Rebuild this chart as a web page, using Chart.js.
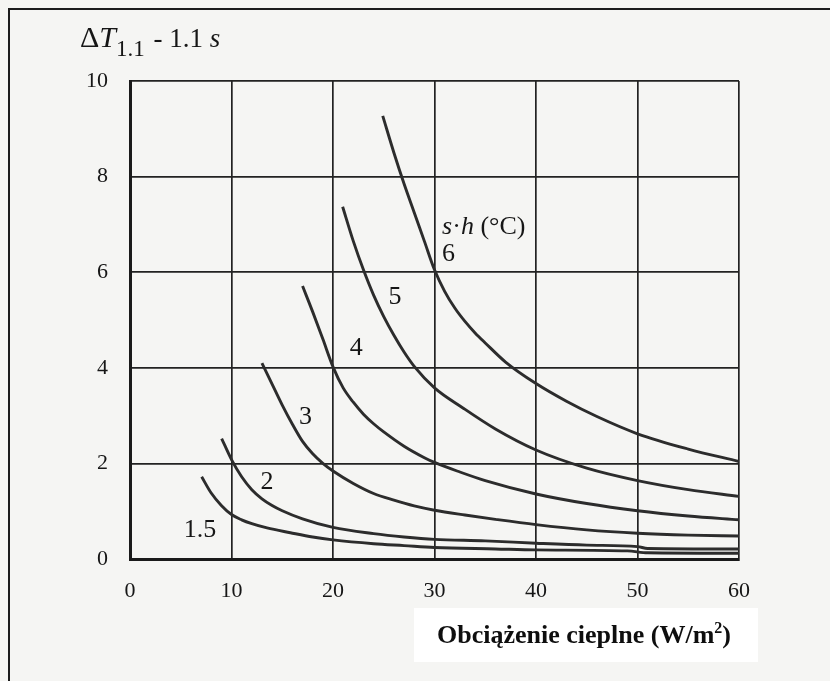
<!DOCTYPE html>
<html>
<head>
<meta charset="utf-8">
<script src="https://cdn.jsdelivr.net/npm/chart.js@4/dist/chart.umd.min.js"></script>
<style>
  html, body { margin: 0; padding: 0; background: #f5f5f3; overflow: hidden; }
  #wrap { width: 830px; height: 681px; }
  #c { display: block; }
</style>
</head>
<body>
<div id="wrap"><canvas id="c" width="830" height="681"></canvas></div>
<script>
// Axis ticks
const xTicks = [0, 10, 20, 30, 40, 50, 60];
const yTicks = [0, 2, 4, 6, 8, 10];

// Curves: heat load (W/m2) vs. temperature rise, one per s·h value
const curveNames = ['1.5', '2', '3', '4', '5', '6'];

const load15 = [7.06, 8, 9, 10, 11, 12, 13.5, 15.8, 18, 20, 24, 27, 30, 36, 40, 49, 51, 60];
const dT15   = [1.72, 1.38, 1.12, 0.93, 0.82, 0.74, 0.65, 0.55, 0.46, 0.40, 0.32, 0.28, 0.24, 0.21, 0.19, 0.17, 0.13, 0.12];

const load2 = [9.03, 10, 11, 12, 13, 14, 15, 17, 20, 24, 27, 30, 35, 40, 45, 50, 51, 60];
const dT2   = [2.52, 2.08, 1.72, 1.45, 1.26, 1.12, 1.01, 0.84, 0.66, 0.53, 0.46, 0.41, 0.38, 0.33, 0.29, 0.26, 0.22, 0.21];

const load3 = [13, 14, 15, 16, 17, 18, 19, 20, 22, 24, 26, 28, 30, 33, 36, 40, 45, 50, 55, 60];
const dT3   = [4.10, 3.66, 3.22, 2.82, 2.46, 2.20, 2.00, 1.84, 1.58, 1.37, 1.23, 1.11, 1.02, 0.92, 0.83, 0.72, 0.61, 0.54, 0.50, 0.48];

const load4 = [17, 18, 19, 20, 21, 22, 23, 24, 25, 27, 29, 30, 32.5, 35, 40, 45, 50, 55, 60];
const dT4   = [5.71, 5.17, 4.60, 4.02, 3.58, 3.28, 3.03, 2.83, 2.66, 2.36, 2.12, 2.02, 1.82, 1.64, 1.36, 1.16, 1.01, 0.90, 0.82];

const load5 = [20.95, 22, 23, 24, 25, 26, 27, 28, 30, 32.8, 36, 40, 45, 50, 55, 60];
const dT5   = [7.37, 6.65, 6.05, 5.52, 5.07, 4.68, 4.33, 4.03, 3.58, 3.16, 2.72, 2.28, 1.90, 1.64, 1.45, 1.31];

const load6 = [24.9, 26, 27, 28, 29, 30, 31, 32, 33, 34, 35, 37, 40, 43, 46, 50, 55, 60];
const dT6   = [9.27, 8.50, 7.85, 7.25, 6.65, 6.05, 5.60, 5.25, 4.97, 4.73, 4.52, 4.12, 3.67, 3.30, 2.98, 2.62, 2.30, 2.04];

// Curve captions placed in data units [x, y]
const captionX = [6.9, 13.5, 17.3, 22.3, 26.1, 30.75];
const captionY = [0.61, 1.61, 2.97, 4.41, 5.48, 6.38];

const loads = [load15, load2, load3, load4, load5, load6];
const temps = [dT15, dT2, dT3, dT4, dT5, dT6];

const SERIF = '"Liberation Serif", "Times New Roman", serif';
const INK = '#161616';
const CURVE = '#2c2c2c';

const datasets = loads.map((xs, i) => ({
  label: 's·h = ' + curveNames[i],
  data: xs.map((x, k) => ({ x: x, y: temps[i][k] })),
  showLine: true,
  borderColor: CURVE,
  borderWidth: 2.9,
  pointRadius: 0,
  cubicInterpolationMode: 'monotone',
  fill: false
}));

const decor = {
  id: 'decor',
  beforeDraw(chart) {
    const ctx = chart.ctx;
    ctx.save();
    ctx.fillStyle = '#f5f5f3';
    ctx.fillRect(0, 0, chart.width, chart.height);
    // page frame
    ctx.strokeStyle = '#1c1c1c';
    ctx.lineWidth = 2;
    ctx.beginPath();
    ctx.moveTo(9, chart.height);
    ctx.lineTo(9, 9);
    ctx.lineTo(chart.width, 9);
    ctx.stroke();
    ctx.restore();
  },
  afterDraw(chart) {
    const ctx = chart.ctx;
    const xs = chart.scales.x, ys = chart.scales.y;
    ctx.save();
    ctx.fillStyle = INK;
    ctx.textBaseline = 'middle';

    // curve captions
    ctx.font = '26px ' + SERIF;
    curveNames.forEach((name, i) => {
      const px = xs.getPixelForValue(captionX[i]);
      const py = ys.getPixelForValue(captionY[i]);
      ctx.textAlign = (i === 5) ? 'left' : 'center';
      ctx.fillText(name, px, py);
    });

    // "s·h (°C)" header above the last caption
    let hx = xs.getPixelForValue(captionX[5]);
    const hy = ys.getPixelForValue(captionY[5]) - 27;
    ctx.textAlign = 'left';
    ctx.font = 'italic 26px ' + SERIF;
    ctx.fillText('s', hx, hy); hx += ctx.measureText('s').width;
    ctx.font = '26px ' + SERIF;
    ctx.fillText('·', hx, hy); hx += ctx.measureText('·').width;
    ctx.font = 'italic 26px ' + SERIF;
    ctx.fillText('h', hx, hy); hx += ctx.measureText('h').width;
    ctx.font = '26px ' + SERIF;
    ctx.fillText(' (°C)', hx, hy);

    // y-axis title: ΔT1.1 - 1.1 s
    ctx.textBaseline = 'alphabetic';
    let tx = 80;
    const ty = 47;
    ctx.font = '30px ' + SERIF;
    ctx.fillText('Δ', tx, ty); tx += ctx.measureText('Δ').width;
    ctx.font = 'italic 30px ' + SERIF;
    ctx.fillText('T', tx, ty); tx += ctx.measureText('T').width;
    ctx.font = '23px ' + SERIF;
    ctx.fillText('1.1', tx, ty + 9); tx += ctx.measureText('1.1').width + 2;
    ctx.font = '27px ' + SERIF;
    ctx.fillText(' - 1.1 ', tx, ty); tx += ctx.measureText(' - 1.1 ').width;
    ctx.font = 'italic 27px ' + SERIF;
    ctx.fillText('s', tx, ty);

    // x-axis title on a white panel
    ctx.fillStyle = '#ffffff';
    ctx.fillRect(414, 608, 344, 54);
    ctx.fillStyle = '#0e0e0e';
    ctx.font = 'bold 26px ' + SERIF;
    const main = 'Obciążenie cieplne (W/m';
    const mw = ctx.measureText(main).width;
    ctx.font = 'bold 16px ' + SERIF;
    const sw = ctx.measureText('2').width;
    ctx.font = 'bold 26px ' + SERIF;
    const cw = ctx.measureText(')').width;
    let ax = 584 - (mw + sw + cw) / 2;
    const ay = 643;
    ctx.fillText(main, ax, ay); ax += mw;
    ctx.font = 'bold 16px ' + SERIF;
    ctx.fillText('2', ax, ay - 10); ax += sw;
    ctx.font = 'bold 26px ' + SERIF;
    ctx.fillText(')', ax, ay);
    ctx.restore();
  }
};

new Chart(document.getElementById('c'), {
  type: 'scatter',
  data: { datasets: datasets },
  options: {
    responsive: false,
    animation: false,
    devicePixelRatio: 1,
    layout: { padding: { left: 0, top: 81, right: 91, bottom: 0 } },
    plugins: { legend: { display: false }, tooltip: { enabled: false }, title: { display: false } },
    scales: {
      x: {
        type: 'linear', min: 0, max: 60,
        afterBuildTicks: s => { s.ticks = xTicks.map(v => ({ value: v })); },
        afterFit: s => { s.height = 122; },
        ticks: { color: INK, padding: 19, font: { family: SERIF, size: 22 }, maxRotation: 0 },
        grid: { color: '#222222', lineWidth: 1.7, drawTicks: false },
        border: { display: true, color: '#1a1a1a', width: 3 }
      },
      y: {
        type: 'linear', min: 0, max: 10,
        afterBuildTicks: s => { s.ticks = yTicks.map(v => ({ value: v })); },
        afterFit: s => { s.width = 130; },
        ticks: { color: INK, padding: 22, font: { family: SERIF, size: 22 } },
        grid: { color: '#222222', lineWidth: 1.7, drawTicks: false },
        border: { display: true, color: '#1a1a1a', width: 3 }
      }
    }
  },
  plugins: [decor]
});
</script>
</body>
</html>
